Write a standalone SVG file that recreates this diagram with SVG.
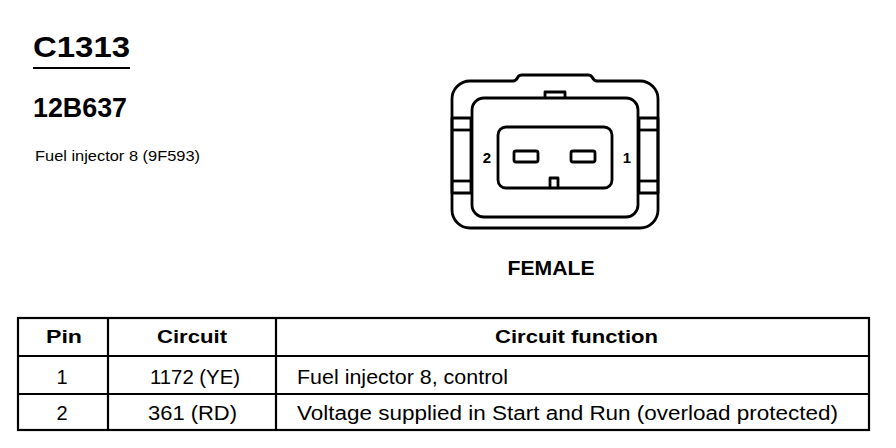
<svg xmlns="http://www.w3.org/2000/svg" width="896" height="448" viewBox="0 0 896 448">
<style>
text{font-family:"Liberation Sans",Arial,sans-serif;fill:#000}
.b{font-weight:bold}
.ln{fill:none;stroke:#000;stroke-width:2.8;stroke-linejoin:round}
.tl{fill:none;stroke:#000;stroke-width:2.2}
.c{text-anchor:middle}
</style>
<rect width="896" height="448" fill="#fff"/>
<g id="header">
<text class="b" x="33" y="57" font-size="30" textLength="97" lengthAdjust="spacingAndGlyphs">C1313</text>
<line x1="33" y1="68" x2="130" y2="68" stroke="#000" stroke-width="2"/>
<text class="b" x="33" y="117" font-size="27" textLength="94" lengthAdjust="spacingAndGlyphs">12B637</text>
<text x="35" y="161" font-size="14" textLength="165" lengthAdjust="spacingAndGlyphs">Fuel injector 8 (9F593)</text>
</g>
<g id="connector">
<path class="ln" d="M452 99 A18 18 0 0 1 470 81 L513 81 Q516 81 518 77 Q519 75 522 75 L588 75 Q591 75 592 77 Q594 81 597 81 L640 81 A18 18 0 0 1 658 99 L658 210 A18 18 0 0 1 640 228 L470 228 A18 18 0 0 1 452 210 Z"/>
<rect class="ln" x="452" y="118" width="19" height="75" fill="#fff"/>
<line class="ln" x1="452" y1="130" x2="471" y2="130"/>
<line class="ln" x1="452" y1="181" x2="471" y2="181"/>
<rect class="ln" x="639" y="118" width="19" height="75" fill="#fff"/>
<line class="ln" x1="639" y1="130" x2="658" y2="130"/>
<line class="ln" x1="639" y1="181" x2="658" y2="181"/>
<rect class="ln" x="472" y="98" width="166" height="119" rx="12"/>
<path class="ln" d="M545 98 L545 92 L565 92 L565 98"/>
<rect class="ln" x="498" y="127" width="114" height="61" rx="8"/>
<path class="ln" d="M550 188 L550 178 L558 178 L558 188"/>
<rect class="ln" x="514" y="151" width="24" height="11" rx="2"/>
<rect class="ln" x="571" y="151" width="24" height="11" rx="2"/>
<text class="b c" x="487" y="163" font-size="15">2</text>
<text class="b c" x="627" y="163" font-size="15">1</text>
<text class="b c" x="551" y="275" font-size="21" textLength="87" lengthAdjust="spacingAndGlyphs">FEMALE</text>
</g>
<g id="table">
<rect class="tl" x="18" y="318" width="851" height="112"/>
<line class="tl" x1="18" y1="356" x2="869" y2="356"/>
<line class="tl" x1="18" y1="394" x2="869" y2="394"/>
<line class="tl" x1="108" y1="318" x2="108" y2="430"/>
<line class="tl" x1="276" y1="318" x2="276" y2="430"/>
<text class="b" x="46" y="343" font-size="18" textLength="36" lengthAdjust="spacingAndGlyphs">Pin</text>
<text class="b" x="157" y="343" font-size="18" textLength="70" lengthAdjust="spacingAndGlyphs">Circuit</text>
<text class="b" x="495" y="343" font-size="18" textLength="163" lengthAdjust="spacingAndGlyphs">Circuit function</text>
<text class="c" x="62" y="384" font-size="20">1</text>
<text x="150" y="384" font-size="20" textLength="90" lengthAdjust="spacingAndGlyphs">1172 (YE)</text>
<text x="297" y="384" font-size="20" textLength="211" lengthAdjust="spacingAndGlyphs">Fuel injector 8, control</text>
<text class="c" x="62" y="420" font-size="20">2</text>
<text x="148" y="420" font-size="20" textLength="89" lengthAdjust="spacingAndGlyphs">361 (RD)</text>
<text x="297" y="420" font-size="20" textLength="541" lengthAdjust="spacingAndGlyphs">Voltage supplied in Start and Run (overload protected)</text>
</g>
</svg>
